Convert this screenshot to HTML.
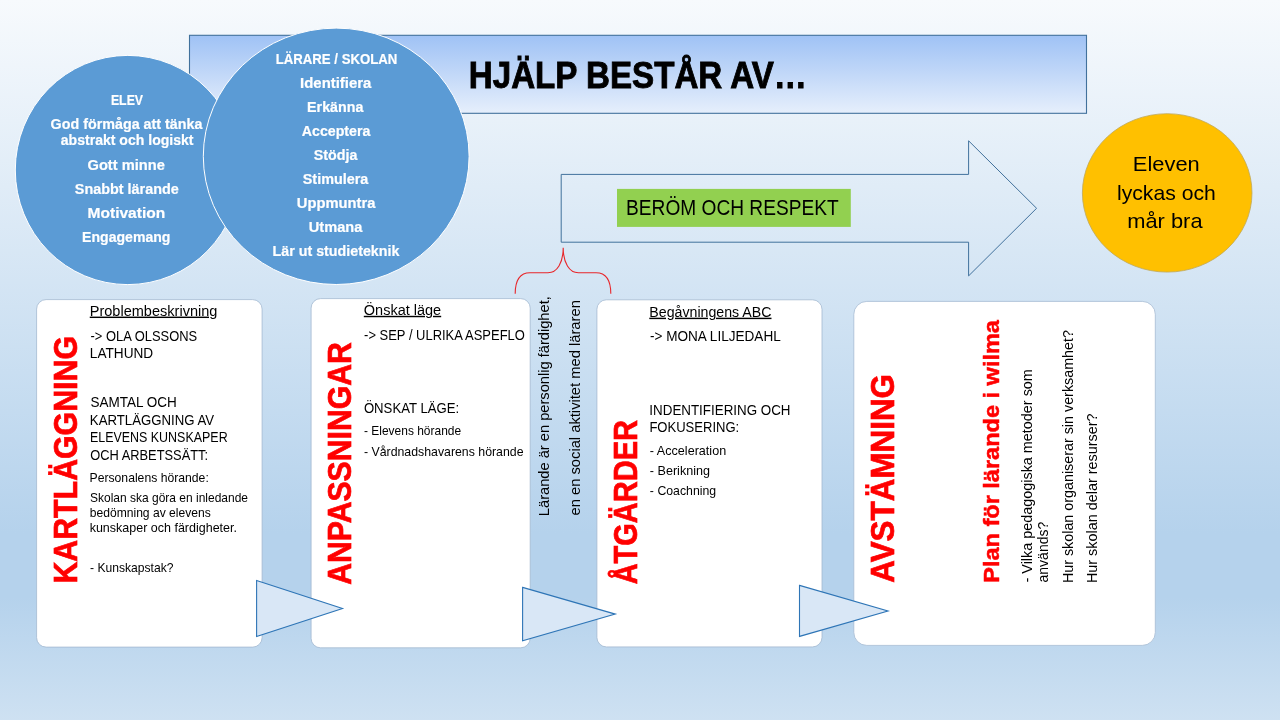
<!DOCTYPE html>
<html lang="sv">
<head>
<meta charset="utf-8">
<title>Hjälp består av…</title>
<style>
  html, body { margin: 0; padding: 0; width: 1280px; height: 720px; overflow: hidden; background: #B5D2EC; }
  svg { display: block; will-change: transform; }
  text { font-family: "Liberation Sans", sans-serif; white-space: pre; }
</style>
</head>
<body>
<svg width="1280" height="720" viewBox="0 0 1280 720">
  <defs>
    <linearGradient id="bg" x1="0" y1="0" x2="0" y2="1">
      <stop offset="0" stop-color="#F7FAFD"/>
      <stop offset="0.74" stop-color="#B5D2EC"/>
      <stop offset="0.83" stop-color="#B5D2EC"/>
      <stop offset="1" stop-color="#CEE1F2"/>
    </linearGradient>
    <linearGradient id="banner" x1="0" y1="0" x2="0" y2="1">
      <stop offset="0" stop-color="#9FC2F5"/>
      <stop offset="0.5" stop-color="#C2D8F8"/>
      <stop offset="1" stop-color="#E6EFFC"/>
    </linearGradient>
  </defs>

  <!-- slide background -->
  <rect width="1280" height="720" fill="url(#bg)"/>

  <!-- title banner -->
  <g id="banner-title">
    <rect x="189.5" y="35.3" width="897" height="78" fill="url(#banner)" stroke="#41719C" stroke-width="1.1"/>
    <text x="468.84" y="87.50" font-size="37.5" textLength="338.16" lengthAdjust="spacingAndGlyphs" font-weight="bold" stroke="#000" stroke-width="0.9">HJÄLP BESTÅR AV…</text>
  </g>

  <!-- circle: ELEV -->
  <g id="circle-elev">
    <ellipse cx="127.8" cy="170" rx="112.5" ry="114.6" fill="#5B9BD5" stroke="#fff" stroke-width="1"/>
    <text x="110.93" y="105.10" font-size="14.5" textLength="32.11" lengthAdjust="spacingAndGlyphs" font-weight="bold" fill="#fff" stroke="#fff" stroke-width="0.2">ELEV</text>
    <text x="50.55" y="128.70" font-size="14.5" textLength="151.86" lengthAdjust="spacingAndGlyphs" font-weight="bold" fill="#fff" stroke="#fff" stroke-width="0.2">God förmåga att tänka</text>
    <text x="60.78" y="145.30" font-size="14.5" textLength="132.79" lengthAdjust="spacingAndGlyphs" font-weight="bold" fill="#fff" stroke="#fff" stroke-width="0.2">abstrakt och logiskt</text>
    <text x="87.54" y="169.80" font-size="14.5" textLength="77.32" lengthAdjust="spacingAndGlyphs" font-weight="bold" fill="#fff" stroke="#fff" stroke-width="0.2">Gott minne</text>
    <text x="74.77" y="193.80" font-size="14.5" textLength="104.08" lengthAdjust="spacingAndGlyphs" font-weight="bold" fill="#fff" stroke="#fff" stroke-width="0.2">Snabbt lärande</text>
    <text x="87.53" y="217.80" font-size="14.5" textLength="77.72" lengthAdjust="spacingAndGlyphs" font-weight="bold" fill="#fff" stroke="#fff" stroke-width="0.2">Motivation</text>
    <text x="82.12" y="241.80" font-size="14.5" textLength="88.28" lengthAdjust="spacingAndGlyphs" font-weight="bold" fill="#fff" stroke="#fff" stroke-width="0.2">Engagemang</text>
  </g>

  <!-- circle: LÄRARE / SKOLAN -->
  <g id="circle-larare">
    <ellipse cx="336.2" cy="156.3" rx="132.9" ry="128.2" fill="#5B9BD5" stroke="#fff" stroke-width="1"/>
    <text x="275.68" y="64.00" font-size="14.5" textLength="121.69" lengthAdjust="spacingAndGlyphs" font-weight="bold" fill="#fff" stroke="#fff" stroke-width="0.2">LÄRARE / SKOLAN</text>
    <text x="300.07" y="88.00" font-size="14.5" textLength="71.34" lengthAdjust="spacingAndGlyphs" font-weight="bold" fill="#fff" stroke="#fff" stroke-width="0.2">Identifiera</text>
    <text x="307.11" y="112.00" font-size="14.5" textLength="56.30" lengthAdjust="spacingAndGlyphs" font-weight="bold" fill="#fff" stroke="#fff" stroke-width="0.2">Erkänna</text>
    <text x="301.78" y="136.00" font-size="14.5" textLength="68.63" lengthAdjust="spacingAndGlyphs" font-weight="bold" fill="#fff" stroke="#fff" stroke-width="0.2">Acceptera</text>
    <text x="313.78" y="160.00" font-size="14.5" textLength="43.63" lengthAdjust="spacingAndGlyphs" font-weight="bold" fill="#fff" stroke="#fff" stroke-width="0.2">Stödja</text>
    <text x="302.77" y="184.00" font-size="14.5" textLength="65.63" lengthAdjust="spacingAndGlyphs" font-weight="bold" fill="#fff" stroke="#fff" stroke-width="0.2">Stimulera</text>
    <text x="296.81" y="208.00" font-size="14.5" textLength="78.60" lengthAdjust="spacingAndGlyphs" font-weight="bold" fill="#fff" stroke="#fff" stroke-width="0.2">Uppmuntra</text>
    <text x="308.82" y="232.00" font-size="14.5" textLength="53.59" lengthAdjust="spacingAndGlyphs" font-weight="bold" fill="#fff" stroke="#fff" stroke-width="0.2">Utmana</text>
    <text x="272.61" y="256.00" font-size="14.5" textLength="126.80" lengthAdjust="spacingAndGlyphs" font-weight="bold" fill="#fff" stroke="#fff" stroke-width="0.2">Lär ut studieteknik</text>
  </g>

  <!-- big arrow with green label -->
  <g id="arrow">
    <path d="M561.2 174.4 H968.6 V140.8 L1036.6 208.3 L968.6 275.9 V242.2 H561.2 Z" fill="none" stroke="#41719C" stroke-width="1"/>
    <rect x="617" y="188.9" width="233.8" height="38" fill="#92D050"/>
    <text x="626.11" y="215.00" font-size="21.48" textLength="212.52" lengthAdjust="spacingAndGlyphs">BERÖM OCH RESPEKT</text>
  </g>

  <!-- yellow result circle -->
  <g id="result">
    <ellipse cx="1167.2" cy="192.9" rx="84.8" ry="79.2" fill="#FFC000" stroke="#BFA85A" stroke-width="0.8"/>
    <text x="1132.89" y="170.70" font-size="20.7" textLength="66.84" lengthAdjust="spacingAndGlyphs">Eleven</text>
    <text x="1116.98" y="199.60" font-size="20.7" textLength="98.81" lengthAdjust="spacingAndGlyphs">lyckas och</text>
    <text x="1127.23" y="228.40" font-size="20.7" textLength="75.33" lengthAdjust="spacingAndGlyphs">mår bra</text>
  </g>

  <!-- red brace -->
  <path id="brace" d="M515.2 293.8 C515.2 280 520 272.7 530 272.7 H548 C557 272.7 563.2 263 563.2 247.7 C563.2 263 569.4 272.7 578.4 272.7 H596 C606 272.7 610.8 280 610.8 293.8" fill="none" stroke="#E8262A" stroke-width="1.1"/>

  <!-- text between cards -->
  <g id="mid-text">
    <text transform="translate(549.30 516.14) rotate(-90)" font-size="14.32" textLength="219.94" lengthAdjust="spacingAndGlyphs">Lärande är en personlig färdighet,</text>
    <text transform="translate(580.00 515.46) rotate(-90)" font-size="14.32" textLength="215.29" lengthAdjust="spacingAndGlyphs">en en social aktivitet med läraren</text>
  </g>

  <!-- card 1 -->
  <g id="card-kartlaggning">
    <rect x="36.6" y="299.6" width="225.5" height="347.5" rx="9.5" ry="9.5" fill="#fff" stroke="#A3B9D1" stroke-width="0.8"/>
    <text x="89.76" y="315.60" font-size="14.32" textLength="127.65" lengthAdjust="spacingAndGlyphs" text-decoration="underline">Problembeskrivning</text>
    <text x="90.50" y="340.50" font-size="14.32" textLength="106.64" lengthAdjust="spacingAndGlyphs">-&gt; OLA OLSSONS</text>
    <text x="89.84" y="357.60" font-size="14.32" textLength="63.34" lengthAdjust="spacingAndGlyphs">LATHUND</text>
    <text x="90.48" y="407.00" font-size="14.32" textLength="86.31" lengthAdjust="spacingAndGlyphs">SAMTAL OCH</text>
    <text x="89.87" y="424.50" font-size="14.32" textLength="124.26" lengthAdjust="spacingAndGlyphs">KARTLÄGGNING AV</text>
    <text x="89.93" y="442.00" font-size="14.32" textLength="137.70" lengthAdjust="spacingAndGlyphs">ELEVENS KUNSKAPER</text>
    <text x="90.30" y="459.70" font-size="14.32" textLength="117.75" lengthAdjust="spacingAndGlyphs">OCH ARBETSSÄTT:</text>
    <text x="89.53" y="482.20" font-size="11.93" textLength="119.26" lengthAdjust="spacingAndGlyphs">Personalens hörande:</text>
    <text x="90.00" y="502.00" font-size="11.93" textLength="157.99" lengthAdjust="spacingAndGlyphs">Skolan ska göra en inledande</text>
    <text x="89.74" y="516.90" font-size="11.93" textLength="121.08" lengthAdjust="spacingAndGlyphs">bedömning av elevens</text>
    <text x="89.66" y="531.80" font-size="11.93" textLength="147.35" lengthAdjust="spacingAndGlyphs">kunskaper och färdigheter.</text>
    <text x="89.99" y="571.60" font-size="11.93" textLength="83.45" lengthAdjust="spacingAndGlyphs">- Kunskapstak?</text>
    <text transform="translate(76.80 583.59) rotate(-90)" font-size="33.20" textLength="247.59" lengthAdjust="spacingAndGlyphs" font-weight="bold" fill="#f00" stroke="#f00" stroke-width="0.7">KARTLÄGGNING</text>
  </g>

  <!-- card 2 -->
  <g id="card-anpassningar">
    <rect x="311.1" y="298.6" width="219.1" height="349.2" rx="9.5" ry="9.5" fill="#fff" stroke="#A3B9D1" stroke-width="0.8"/>
    <text x="363.82" y="314.80" font-size="14.32" textLength="77.37" lengthAdjust="spacingAndGlyphs" text-decoration="underline">Önskat läge</text>
    <text x="364.10" y="340.00" font-size="14.32" textLength="160.76" lengthAdjust="spacingAndGlyphs">-&gt; SEP / ULRIKA ASPEFLO</text>
    <text x="363.88" y="412.80" font-size="14.32" textLength="95.30" lengthAdjust="spacingAndGlyphs">ÖNSKAT LÄGE:</text>
    <text x="364.00" y="434.80" font-size="11.93" textLength="97.09" lengthAdjust="spacingAndGlyphs">- Elevens hörande</text>
    <text x="363.98" y="456.20" font-size="11.93" textLength="159.52" lengthAdjust="spacingAndGlyphs">- Vårdnadshavarens hörande</text>
    <text transform="translate(351.40 584.87) rotate(-90)" font-size="33.20" textLength="242.65" lengthAdjust="spacingAndGlyphs" font-weight="bold" fill="#f00" stroke="#f00" stroke-width="0.7">ANPASSNINGAR</text>
  </g>

  <!-- card 3 -->
  <g id="card-atgarder">
    <rect x="596.9" y="299.8" width="225.1" height="347.1" rx="9.5" ry="9.5" fill="#fff" stroke="#A3B9D1" stroke-width="0.8"/>
    <text x="649.30" y="316.70" font-size="14.32" textLength="122.19" lengthAdjust="spacingAndGlyphs" text-decoration="underline">Begåvningens ABC</text>
    <text x="649.98" y="341.30" font-size="14.32" textLength="130.76" lengthAdjust="spacingAndGlyphs">-&gt; MONA LILJEDAHL</text>
    <text x="649.36" y="414.70" font-size="14.32" textLength="141.13" lengthAdjust="spacingAndGlyphs">INDENTIFIERING OCH</text>
    <text x="649.38" y="432.30" font-size="14.32" textLength="89.80" lengthAdjust="spacingAndGlyphs">FOKUSERING:</text>
    <text x="649.88" y="455.00" font-size="11.93" textLength="76.29" lengthAdjust="spacingAndGlyphs">- Acceleration</text>
    <text x="649.87" y="474.90" font-size="11.93" textLength="60.10" lengthAdjust="spacingAndGlyphs">- Berikning</text>
    <text x="649.88" y="494.60" font-size="11.93" textLength="66.27" lengthAdjust="spacingAndGlyphs">- Coachning</text>
    <text transform="translate(636.80 584.35) rotate(-90)" font-size="33.20" textLength="164.31" lengthAdjust="spacingAndGlyphs" font-weight="bold" fill="#f00" stroke="#f00" stroke-width="0.7">ÅTGÄRDER</text>
  </g>

  <!-- card 4 -->
  <g id="card-avstamning">
    <rect x="853.8" y="301.4" width="301.5" height="344" rx="13" ry="13" fill="#fff" stroke="#A6BBD3" stroke-width="0.8"/>
    <text transform="translate(894.20 582.69) rotate(-90)" font-size="33.20" textLength="208.75" lengthAdjust="spacingAndGlyphs" font-weight="bold" fill="#f00" stroke="#f00" stroke-width="0.7">AVSTÄMNING</text>
    <text transform="translate(998.50 582.77) rotate(-90)" font-size="22.80" textLength="262.72" lengthAdjust="spacingAndGlyphs" font-weight="bold" fill="#f00" stroke="#f00" stroke-width="0.5">Plan för lärande i wilma</text>
    <text transform="translate(1031.60 582.45) rotate(-90)" font-size="14.32" textLength="213.29" lengthAdjust="spacingAndGlyphs">- Vilka pedagogiska metoder som</text>
    <text transform="translate(1047.60 582.44) rotate(-90)" font-size="14.32" textLength="60.69" lengthAdjust="spacingAndGlyphs">används?</text>
    <text transform="translate(1072.60 583.12) rotate(-90)" font-size="14.32" textLength="253.08" lengthAdjust="spacingAndGlyphs">Hur skolan organiserar sin verksamhet?</text>
    <text transform="translate(1096.90 583.12) rotate(-90)" font-size="14.32" textLength="169.58" lengthAdjust="spacingAndGlyphs">Hur skolan delar resurser?</text>
  </g>

  <!-- connector triangles -->
  <g id="triangles" fill="#D9E7F6" stroke="#2E75B6" stroke-width="1.1" stroke-linejoin="miter">
    <path d="M256.6 580.4 L342.5 608.4 L256.6 636.4 Z"/>
    <path d="M522.6 587.4 L615.3 614.1 L522.6 640.7 Z"/>
    <path d="M799.5 585.4 L888 611 L799.5 636.4 Z"/>
  </g>
</svg>
</body>
</html>
